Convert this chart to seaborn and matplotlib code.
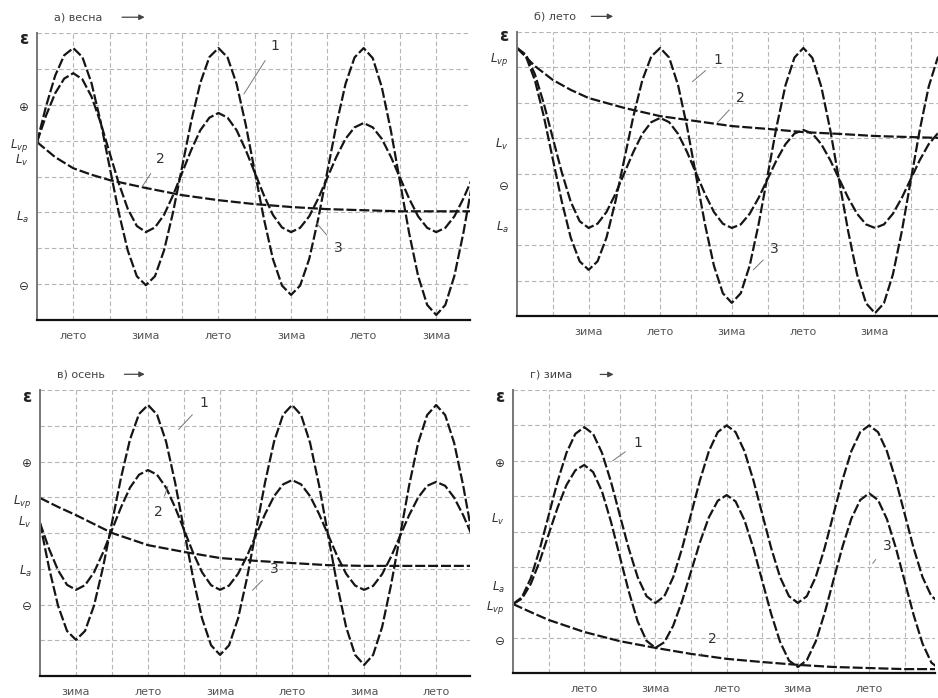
import numpy as np
import pandas as pd
import matplotlib
matplotlib.use("Agg")
import matplotlib.pyplot as plt
import seaborn as sns

sns.set_theme(style="white")
plt.rcParams['font.family'] = ['DejaVu Sans']

# sampling positions (in seasons) for the oscillating curves
t = np.arange(0, 12.01, 0.25)

# --- а) весна ---
spring_1 = [4.96, 5.96, 6.81, 7.38, 7.58, 7.33, 6.61, 5.54, 4.27, 3.01, 1.94, 1.22, 0.97,
            1.22, 1.94, 3.01, 4.28, 5.54, 6.61, 7.33, 7.58, 7.32, 6.58, 5.45, 4.14, 2.83,
            1.70, 0.96, 0.70, 0.96, 1.70, 2.83, 4.14, 5.45, 6.58, 7.32, 7.58, 7.30, 6.49,
            5.28, 3.86, 2.44, 1.23, 0.42, 0.14, 0.42, 1.23, 2.44, 3.86]
spring_3 = [4.96, 5.70, 6.32, 6.73, 6.88, 6.71, 6.23, 5.51, 4.66, 3.82, 3.10, 2.62, 2.45,
            2.58, 2.93, 3.48, 4.11, 4.74, 5.29, 5.64, 5.77, 5.64, 5.29, 4.74, 4.11, 3.48,
            2.93, 2.58, 2.45, 2.57, 2.89, 3.39, 3.97, 4.55, 5.05, 5.37, 5.49, 5.37, 5.05,
            4.55, 3.97, 3.39, 2.89, 2.57, 2.45, 2.57, 2.89, 3.39, 3.97]
spring_2_t = [0, 0.5, 1, 1.5, 2, 3, 4, 5, 6, 7, 8, 9, 10, 11, 12]
spring_2 = [4.96, 4.54, 4.23, 4.05, 3.90, 3.68, 3.48, 3.34, 3.23, 3.15, 3.09, 3.06, 3.03, 3.03, 3.03]

# --- б) лето ---
summer_1 = [7.55, 7.31, 6.64, 5.62, 4.42, 3.23, 2.21, 1.54, 1.30, 1.54, 2.21, 3.23, 4.43,
            5.62, 6.64, 7.31, 7.55, 7.28, 6.50, 5.33, 3.96, 2.59, 1.42, 0.64, 0.37, 0.64,
            1.42, 2.59, 3.96, 5.33, 6.50, 7.28, 7.55, 7.27, 6.46, 5.24, 3.81, 2.39, 1.17,
            0.36, 0.08, 0.36, 1.17, 2.39, 3.82, 5.24, 6.46, 7.27, 7.55]
summer_3 = [7.55, 7.36, 6.81, 5.98, 5.01, 4.05, 3.22, 2.67, 2.48, 2.60, 2.93, 3.44, 4.03,
            4.62, 5.13, 5.46, 5.58, 5.46, 5.13, 4.62, 4.03, 3.44, 2.93, 2.60, 2.48, 2.58,
            2.88, 3.33, 3.86, 4.39, 4.84, 5.14, 5.24, 5.14, 4.84, 4.39, 3.86, 3.33, 2.88,
            2.58, 2.48, 2.58, 2.88, 3.33, 3.86, 4.39, 4.84, 5.14, 5.24]
summer_2_t = [0, 0.5, 1, 1.5, 2, 3, 4, 5, 6, 7, 8, 9, 10, 11, 12]
summer_2 = [7.55, 7.04, 6.65, 6.37, 6.14, 5.86, 5.63, 5.49, 5.35, 5.27, 5.18, 5.13, 5.07, 5.04, 5.01]

# --- в) осень ---
autumn_1 = [4.28, 3.03, 1.97, 1.26, 1.01, 1.26, 1.97, 3.04, 4.30, 5.55, 6.62, 7.33, 7.58,
            7.31, 6.56, 5.42, 4.08, 2.75, 1.61, 0.86, 0.59, 0.86, 1.61, 2.75, 4.08, 5.42,
            6.56, 7.31, 7.58, 7.30, 6.52, 5.33, 3.94, 2.56, 1.37, 0.59, 0.31, 0.59, 1.37,
            2.56, 3.94, 5.33, 6.52, 7.30, 7.58, 7.30, 6.52, 5.33, 3.94]
autumn_3 = [4.28, 3.56, 2.96, 2.55, 2.41, 2.54, 2.90, 3.45, 4.09, 4.72, 5.27, 5.63, 5.76,
            5.63, 5.27, 4.72, 4.09, 3.45, 2.90, 2.54, 2.41, 2.53, 2.86, 3.36, 3.95, 4.53,
            5.03, 5.36, 5.48, 5.36, 5.03, 4.53, 3.95, 3.36, 2.86, 2.53, 2.41, 2.52, 2.85,
            3.34, 3.92, 4.50, 4.99, 5.32, 5.43, 5.32, 4.99, 4.50, 3.92]
autumn_2_t = [0, 0.5, 1, 1.5, 2, 3, 4, 5, 6, 7, 8, 9, 10, 11, 12]
autumn_2 = [4.98, 4.73, 4.50, 4.25, 4.00, 3.66, 3.47, 3.30, 3.22, 3.16, 3.10, 3.08, 3.08, 3.08, 3.08]

# --- г) зима ---
winter_1 = [1.95, 2.14, 2.68, 3.50, 4.45, 5.41, 6.22, 6.76, 6.95, 6.76, 6.22, 5.41, 4.46,
            3.52, 2.71, 2.17, 1.98, 2.17, 2.71, 3.53, 4.49, 5.45, 6.27, 6.81, 7.00, 6.81,
            6.27, 5.45, 4.49, 3.53, 2.71, 2.17, 1.98, 2.17, 2.71, 3.53, 4.49, 5.45, 6.27,
            6.81, 7.00, 6.81, 6.27, 5.45, 4.49, 3.53, 2.71, 2.17, 1.98]
winter_3 = [1.95, 2.10, 2.52, 3.16, 3.92, 4.67, 5.31, 5.73, 5.88, 5.68, 5.13, 4.28, 3.29,
            2.31, 1.46, 0.91, 0.71, 0.87, 1.34, 2.04, 2.87, 3.70, 4.40, 4.87, 5.03, 4.85,
            4.32, 3.53, 2.60, 1.67, 0.88, 0.35, 0.17, 0.36, 0.89, 1.69, 2.63, 3.56, 4.36,
            4.89, 5.08, 4.89, 4.35, 3.54, 2.59, 1.64, 0.83, 0.29, 0.10]
winter_2_t = [0, 0.5, 1, 1.5, 2, 3, 4, 5, 6, 7, 8, 9, 10, 11, 12]
winter_2 = [1.95, 1.72, 1.50, 1.33, 1.16, 0.90, 0.71, 0.54, 0.40, 0.31, 0.23, 0.17, 0.14, 0.11, 0.11]

# season tick labels
ticks_spring = [1, 3, 5, 7, 9, 11]
labels_spring = ["лето", "зима", "лето", "зима", "лето", "зима"]
ticks_summer = [2, 4, 6, 8, 10]
labels_summer = ["зима", "лето", "зима", "лето", "зима"]
ticks_autumn = [1, 3, 5, 7, 9, 11]
labels_autumn = ["зима", "лето", "зима", "лето", "зима", "лето"]
ticks_winter = [2, 4, 6, 8, 10]
labels_winter = ["лето", "зима", "лето", "зима", "лето"]

# level marks on the vertical axis
levels_spring = [7.9, 5.96, 4.96, 4.51, 2.92, 0.97]
level_names_spring = ["ε", "⊕", r"$L_{vp}$", r"$L_v$", r"$L_a$", "⊖"]
levels_summer = [7.95, 7.3, 4.90, 3.69, 2.56]
level_names_summer = ["ε", r"$L_{vp}$", r"$L_v$", "⊖", r"$L_a$"]
levels_autumn = [7.86, 5.99, 4.98, 4.36, 2.97, 1.99]
level_names_autumn = ["ε", "⊕", r"$L_{vp}$", r"$L_v$", r"$L_a$", "⊖"]
levels_winter = [7.85, 5.96, 4.41, 2.49, 1.95, 0.93]
level_names_winter = ["ε", "⊕", r"$L_v$", r"$L_a$", r"$L_{vp}$", "⊖"]

W, H = 938, 698
fig = plt.figure(figsize=(W / 100, H / 100), dpi=100)


def add_panel(left, top, right, bottom):
    return fig.add_axes([left / W, 1 - bottom / H, (right - left) / W, (bottom - top) / H])


def draw_panel(ax, title, arrow_span, xmax, osc1, osc3, t2, dec2,
               ticks, tick_labels, levels, level_names, notes):
    # dashed season / level grid
    for gx in range(1, 13):
        ax.axvline(gx, color="#b5b5b5", lw=0.8, ls=(0, (4, 2.5)), zorder=0)
    for gy in range(1, 9):
        ax.axhline(gy, color="#b5b5b5", lw=0.8, ls=(0, (4, 2.5)), zorder=0)
    for series_t, series_y in ((t, osc1), (t, osc3), (t2, dec2)):
        df = pd.DataFrame({"season": series_t, "value": series_y})
        sns.lineplot(data=df, x="season", y="value", ax=ax, color="#151515",
                     lw=1.6, sort=False, estimator=None)
        ax.lines[-1].set_dashes((4.5, 1.3))
    ax.set_xlim(0, xmax)
    ax.set_ylim(0, 8)
    ax.set_xlabel("")
    ax.set_ylabel("")
    ax.grid(False)
    ax.set_xticks(ticks)
    ax.set_xticklabels(tick_labels, fontsize=8, color="#555555")
    ax.set_yticks(levels)
    ax.set_yticklabels(level_names, fontsize=8.5, color="#333333")
    for lab in ax.get_yticklabels():
        if lab.get_text() == "ε":
            lab.set_fontsize(12)
            lab.set_fontweight("bold")
            lab.set_color("#222222")
    ax.tick_params(axis="both", which="both", length=0)
    ax.tick_params(axis="x", pad=8)
    ax.tick_params(axis="y", pad=6)
    for side in ("top", "right"):
        ax.spines[side].set_visible(False)
    ax.spines["left"].set_color("#777777")
    ax.spines["left"].set_linewidth(1.4)
    ax.spines["bottom"].set_color("#111111")
    ax.spines["bottom"].set_linewidth(1.6)
    ax.text(0.04, 1.055, title, transform=ax.transAxes, fontsize=8,
            color="#444444", va="center", ha="left")
    ax.annotate("", xy=(arrow_span[1], 1.055), xytext=(arrow_span[0], 1.055),
                xycoords="axes fraction",
                arrowprops=dict(arrowstyle="-|>", color="#444444", lw=0.9,
                                mutation_scale=8))
    for label, (tx, ty), (px, py) in notes:
        ax.annotate(label, xy=(px, py), xytext=(tx, ty), fontsize=10,
                    color="#333333", ha="center", va="center",
                    arrowprops=dict(arrowstyle="-", color="#777777", lw=0.7,
                                    shrinkA=4, shrinkB=0))


ax_a = add_panel(37, 33, 470, 320)
draw_panel(ax_a, "а) весна", (0.19, 0.255), 11.93, spring_1, spring_3,
           spring_2_t, spring_2, ticks_spring, labels_spring,
           levels_spring, level_names_spring,
           [("1", (6.55, 7.65), (5.7, 6.3)),
            ("2", (3.4, 4.5), (2.9, 3.72)),
            ("3", (8.3, 2.0), (7.7, 2.7))])

ax_b = add_panel(517, 32, 938, 316)
draw_panel(ax_b, "б) лето", (0.17, 0.235), 11.76, summer_1, summer_3,
           summer_2_t, summer_2, ticks_summer, labels_summer,
           levels_summer, level_names_summer,
           [("1", (5.6, 7.2), (4.9, 6.6)),
            ("2", (6.25, 6.15), (5.6, 5.45)),
            ("3", (7.2, 1.9), (6.6, 1.3))])

ax_c = add_panel(40, 390, 470, 676)
draw_panel(ax_c, "в) осень", (0.19, 0.25), 11.94, autumn_1, autumn_3,
           autumn_2_t, autumn_2, ticks_autumn, labels_autumn,
           levels_autumn, level_names_autumn,
           [("1", (4.55, 7.65), (3.85, 6.9)),
            ("2", (3.3, 4.6), (3.55, 5.3)),
            ("3", (6.5, 3.0), (5.9, 2.4))])

ax_d = add_panel(513, 390, 935, 673)
draw_panel(ax_d, "г) зима", (0.2, 0.245), 11.85, winter_1, winter_3,
           winter_2_t, winter_2, ticks_winter, labels_winter,
           levels_winter, level_names_winter,
           [("1", (3.5, 6.5), (2.8, 6.0)),
            ("2", (5.6, 0.95), (5.25, 0.5)),
            ("3", (10.5, 3.6), (10.1, 3.1))])

fig.savefig("out.png", dpi=100, facecolor="white")
